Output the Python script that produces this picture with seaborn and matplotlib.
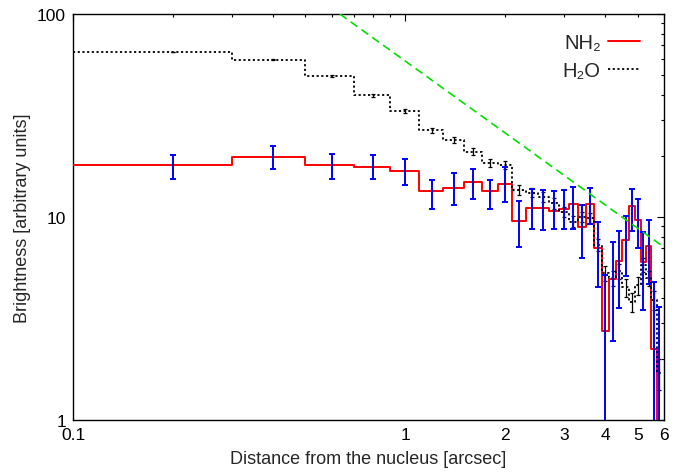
import numpy as np
import pandas as pd
import matplotlib
matplotlib.use("Agg")
import matplotlib.pyplot as plt
import seaborn as sns
from matplotlib.ticker import FixedLocator, FixedFormatter, NullFormatter, LogLocator

# ---------------- data ----------------
r_centers = [0.2, 0.4, 0.6, 0.8, 1.0, 1.2, 1.4, 1.6, 1.8, 2.0,
             2.2, 2.4, 2.6, 2.8, 3.0, 3.2, 3.4, 3.6, 3.8, 4.0,
             4.2, 4.4, 4.6, 4.8, 5.0, 5.2, 5.4, 5.6, 5.8]
bin_half_width = 0.1

nh2_values = [18.0, 19.8, 18.0, 17.7, 16.8, 13.5, 13.9, 14.8, 13.4, 14.5,
              9.6, 11.1, 11.1, 10.7, 11.0, 11.6, 8.9, 11.6, 7.0, 2.75,
              4.95, 6.1, 7.7, 11.3, 9.7, 6.0, 7.2, 2.25, 0.5]
nh2_err_low = [15.4, 17.2, 15.4, 15.4, 14.3, 10.9, 11.4, 12.3, 10.9, 11.9,
               7.1, 8.7, 8.6, 8.7, 8.7, 8.7, 6.3, 9.2, 4.5, 0.1,
               2.46, 3.55, 5.1, 8.5, 7.0, 3.5, 4.7, 0.1, 0.1]
nh2_err_high = [20.3, 22.3, 20.5, 20.2, 19.2, 15.2, 16.5, 17.2, 15.2, 17.7,
                12.0, 13.7, 13.6, 13.4, 13.6, 14.0, 11.4, 13.9, 9.5, 5.2,
                7.5, 8.56, 10.15, 13.8, 12.2, 8.4, 9.7, 4.8, 3.6]

h2o_values = [65.0, 59.5, 49.7, 39.8, 33.2, 26.7, 24.0, 21.0, 18.5, 18.0,
              13.6, 13.2, 12.6, 11.7, 10.6, 9.5, 10.0, 9.9, 7.3, 5.3,
              5.0, 5.4, 4.5, 3.8, 4.6, 5.8, 5.0, 3.9, 1.7]
h2o_err = [0.3, 0.4, 0.5, 0.6, 0.7, 0.8, 0.8, 0.8, 0.8, 0.8,
           0.7, 0.7, 0.7, 0.7, 0.6, 0.6, 0.6, 0.6, 0.5, 0.45,
           0.45, 0.45, 0.45, 0.4, 0.45, 0.45, 0.45, 0.4, 0.3]

fit_r = [0.635, 6.0]
fit_values = [100.0, 7.1]

x_tick_values = [0.1, 1, 2, 3, 4, 5, 6]
x_tick_labels = ["0.1", "1", "2", "3", "4", "5", "6"]
y_tick_values = [1, 10, 100]
y_tick_labels = ["1", "10", "100"]

x_label = "Distance from the nucleus [arcsec]"
y_label = "Brightness [arbitrary units]"
label_nh2 = "NH\u2082"
label_h2o = "H\u2082O"

# ---------------- build step tables ----------------
edges = [c - bin_half_width for c in r_centers] + [r_centers[-1] + bin_half_width]
nh2_step = pd.DataFrame({"r": edges, "v": nh2_values + [nh2_values[-1]]})
h2o_step = pd.DataFrame({"r": edges, "v": h2o_values + [h2o_values[-1]]})
fit_df = pd.DataFrame({"r": fit_r, "v": fit_values})

# ---------------- style ----------------
sns.set_style("white")
plt.rcParams["font.family"] = ["Liberation Sans", "DejaVu Sans"]
plt.rcParams["font.size"] = 12.5

fig = plt.figure(figsize=(6.99, 4.77), dpi=100)
ax = fig.add_axes([73 / 699, 1 - 421 / 477, (664 - 73) / 699, (421 - 15) / 477])
ax.set_xscale("log")
ax.set_yscale("log")

sns.lineplot(data=nh2_step, x="r", y="v", ax=ax, color="#ff0000", lw=1.4,
             drawstyle="steps-post", label=label_nh2, estimator=None, sort=False, zorder=3)
sns.lineplot(data=h2o_step, x="r", y="v", ax=ax, color="black", lw=1.3,
             drawstyle="steps-post", label=label_h2o, estimator=None, sort=False,
             dashes=False, zorder=4)
ax.lines[-1].set_linestyle((0, (1.2, 1.4)))

ax.errorbar(r_centers, h2o_values, yerr=h2o_err, fmt="none", ecolor="black",
            elinewidth=0.9, capsize=1.2, capthick=0.9, zorder=4)

lo = [v - l for v, l in zip(nh2_values, nh2_err_low)]
hi = [h - v for v, h in zip(nh2_values, nh2_err_high)]
ax.errorbar(r_centers, nh2_values, yerr=[lo, hi], fmt="none", ecolor="#0000ff",
            elinewidth=1.4, capsize=2.2, capthick=1.4, zorder=5)

sns.lineplot(data=fit_df, x="r", y="v", ax=ax, color="#00e000", lw=1.2,
             estimator=None, sort=False, zorder=6)
ax.lines[-1].set_linestyle((0, (5, 3)))

ax.set_xlim(0.1, 6)
ax.set_ylim(1, 100)

ax.xaxis.set_major_locator(FixedLocator(x_tick_values))
ax.xaxis.set_major_formatter(FixedFormatter(x_tick_labels))
ax.xaxis.set_minor_locator(LogLocator(base=10, subs=np.arange(2, 10)))
ax.xaxis.set_minor_formatter(NullFormatter())
ax.yaxis.set_major_locator(FixedLocator(y_tick_values))
ax.yaxis.set_major_formatter(FixedFormatter(y_tick_labels))
ax.yaxis.set_minor_locator(LogLocator(base=10, subs=np.arange(2, 10)))
ax.yaxis.set_minor_formatter(NullFormatter())

ax.tick_params(which="both", direction="in", top=True, right=True, colors="black",
               labelsize=12.5, width=0.8)
ax.tick_params(which="major", length=5, pad=5)
ax.tick_params(which="minor", length=2.5)
for t in ax.xaxis.get_major_ticks()[2:]:
    t.tick1line.set_markersize(2.5)
    t.tick2line.set_markersize(2.5)

for s in ax.spines.values():
    s.set_color("black")
    s.set_linewidth(1.0)

ax.set_xlabel(x_label, fontsize=13, labelpad=6)
ax.set_ylabel(y_label, fontsize=13, labelpad=4)

leg = ax.legend(loc="upper right", bbox_to_anchor=(0.99, 0.997), frameon=False,
                markerfirst=False, handlelength=1.6, handletextpad=0.35,
                labelspacing=0.45, fontsize=14.5)

fig.savefig("out.png", dpi=100)
